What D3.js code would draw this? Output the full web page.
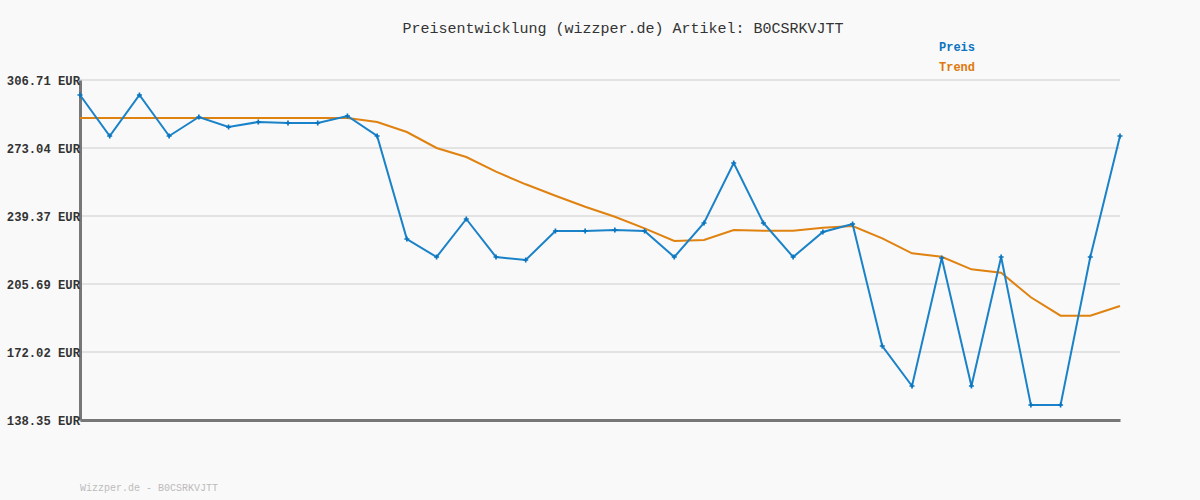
<!DOCTYPE html>
<html><head><meta charset="utf-8">
<script src="https://cdn.jsdelivr.net/npm/d3@7"></script>
<style>html,body{margin:0;padding:0;background:#f9f9f9;}svg{display:block;}</style>
</head><body>
<script>
const titleText = "Preisentwicklung (wizzper.de) Artikel: B0CSRKVJTT";
const footerText = "Wizzper.de - B0CSRKVJTT";
const seriesNames = ["Preis", "Trend"];
const yTicks = [138.35, 172.02, 205.69, 239.37, 273.04, 306.71];
const yTickLabels = ["138.35 EUR", "172.02 EUR", "205.69 EUR", "239.37 EUR", "273.04 EUR", "306.71 EUR"];
const preis = [299.28, 278.98, 299.28, 278.98, 288.39, 283.44, 285.91, 285.42, 285.42, 288.88,
  278.98, 227.97, 219.06, 237.88, 219.06, 217.58, 231.94, 231.94, 232.43, 231.94,
  219.06, 235.90, 265.61, 235.90, 219.06, 231.44, 235.40, 174.99, 155.18, 218.57,
  155.18, 219.06, 145.77, 145.77, 219.06, 278.98];
const trend = [287.89, 287.89, 287.89, 287.89, 287.89, 287.89, 287.89, 287.89, 287.89, 287.89,
  285.91, 280.96, 273.04, 268.58, 261.30, 255.06, 249.42, 243.97, 239.02, 233.27,
  226.99, 227.48, 232.43, 232.09, 232.09, 233.57, 234.41, 228.32, 220.89, 219.21,
  212.97, 211.29, 199.11, 189.99, 189.99, 194.80];

const W = 1200, H = 500;
const svg = d3.select("body").append("svg").attr("width", W).attr("height", H);
svg.append("rect").attr("width", W).attr("height", H).attr("fill", "#f9f9f9");

const x = d3.scaleLinear().domain([0, preis.length - 1]).range([80, 1120]);
const y = d3.scaleLinear().domain([138.35, 306.71]).range([420, 80]);

svg.append("g").selectAll("line").data(yTicks.slice(1)).join("line")
  .attr("x1", 80).attr("x2", 1120)
  .attr("y1", d => y(d)).attr("y2", d => y(d))
  .attr("stroke", "#e3e3e3").attr("stroke-width", 2);

const yAxis = d3.axisLeft(y).tickValues(yTicks).tickSize(0).tickFormat((d, i) => yTickLabels[i]);
const gy = svg.append("g").attr("transform", "translate(80,0)").call(yAxis);
gy.select(".domain").attr("stroke", "#777").attr("stroke-width", 3);
gy.selectAll("text").attr("x", 0).attr("dy", "0.38em")
  .attr("font-family", "'Liberation Mono', 'DejaVu Sans Mono', monospace")
  .attr("font-size", 12.2).attr("font-weight", "bold").attr("fill", "#333");

const xAxis = d3.axisBottom(x).tickValues([]).tickSize(0);
const gx = svg.append("g").attr("transform", "translate(0,420)").call(xAxis);
gx.select(".domain").attr("stroke", "#777").attr("stroke-width", 3);

const line = d3.line().x((d, i) => x(i)).y(d => y(d));

svg.append("path").datum(trend).attr("d", line)
  .attr("fill", "none").attr("stroke", "#e0820f").attr("stroke-width", 2);

svg.append("path").datum(preis).attr("d", line)
  .attr("fill", "none").attr("stroke", "#1a82c8").attr("stroke-width", 2);

const cross = d3.symbol().type(d3.symbolCross).size(14);
svg.append("g").selectAll("path").data(preis).join("path")
  .attr("d", cross)
  .attr("transform", (d, i) => `translate(${x(i)},${y(d)})`)
  .attr("fill", "#0a74bf");

svg.append("text").attr("x", 623).attr("y", 33).attr("text-anchor", "middle")
  .attr("font-family", "'Liberation Mono', 'DejaVu Sans Mono', monospace")
  .attr("font-size", 15).attr("fill", "#333").text(titleText);

const legColors = ["#0a74bf", "#e0780a"];
svg.append("g").selectAll("text").data(seriesNames).join("text")
  .attr("x", 939).attr("y", (d, i) => 51 + i * 20)
  .attr("font-family", "'Liberation Mono', 'DejaVu Sans Mono', monospace")
  .attr("font-size", 12).attr("font-weight", "bold")
  .attr("fill", (d, i) => legColors[i]).text(d => d);

svg.append("text").attr("x", 80).attr("y", 491)
  .attr("font-family", "'Liberation Mono', 'DejaVu Sans Mono', monospace")
  .attr("font-size", 10).attr("fill", "#bbb").text(footerText);
</script>
</body></html>
